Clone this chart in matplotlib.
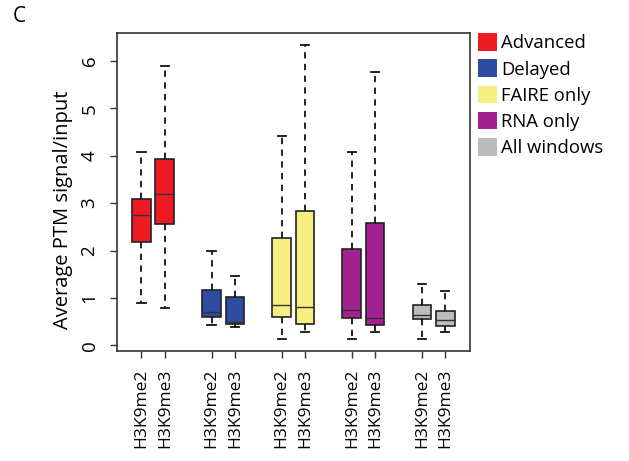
import matplotlib
matplotlib.use("Agg")
import matplotlib.pyplot as plt
from matplotlib.patches import Patch

groups = ["Advanced", "Delayed", "FAIRE only", "RNA only", "All windows"]
colors = ["#ED1C24", "#2E4DA0", "#F6EE80", "#A4228F", "#BCBCBC"]
marks = ["H3K9me2", "H3K9me3"]

# five-number summaries per box: (whislo, q1, med, q3, whishi)
whislo = [0.90, 0.79, 0.44, 0.39, 0.14, 0.29, 0.14, 0.29, 0.14, 0.29]
q1 = [2.19, 2.56, 0.60, 0.46, 0.60, 0.46, 0.57, 0.44, 0.55, 0.42]
med = [2.75, 3.19, 0.70, 0.50, 0.86, 0.81, 0.74, 0.58, 0.64, 0.53]
q3 = [3.08, 3.93, 1.17, 1.02, 2.26, 2.83, 2.03, 2.58, 0.86, 0.72]
whishi = [4.08, 5.89, 2.00, 1.47, 4.42, 6.33, 4.07, 5.77, 1.30, 1.14]

positions = [1, 2, 4, 5, 7, 8, 10, 11, 13, 14]

stats = []
for i in range(len(positions)):
    stats.append({"whislo": whislo[i], "q1": q1[i], "med": med[i],
                  "q3": q3[i], "whishi": whishi[i], "fliers": []})

plt.rcParams['font.family'] = ['Open Sans', 'DejaVu Sans']

fig = plt.figure(figsize=(6.29, 4.61), dpi=100)
ax = fig.add_axes([0.1855, 0.2393, 0.5617, 0.6885])

bp = ax.bxp(stats, positions=positions, widths=0.8, patch_artist=True,
            showfliers=False,
            boxprops=dict(linewidth=1.2, edgecolor="#222222"),
            medianprops=dict(color="#333333", linewidth=1.0),
            whiskerprops=dict(color="#111111", linewidth=1.3, linestyle=(0, (3.5, 3))),
            capprops=dict(color="#111111", linewidth=1.3),
            capwidths=0.35)
for i, box in enumerate(bp["boxes"]):
    box.set_facecolor(colors[i // 2])

ax.set_xlim(-0.06, 15.06)
ax.set_ylim(-0.11, 6.58)
ax.set_xticks(positions)
ax.set_xticklabels(marks * 5, rotation=90, fontsize=12.5)
ax.set_yticks(range(7))
ax.set_yticklabels([str(v) for v in range(7)], rotation=90, va="center", fontsize=13.5)
ax.tick_params(axis="x", length=5, width=1, color="#333333", pad=8)
ax.tick_params(axis="y", length=5, width=1, color="#333333", pad=8)
for s in ax.spines.values():
    s.set_linewidth(1.2)
    s.set_color("#333333")

ax.set_ylabel("Average PTM signal/input", fontsize=14.5)
ax.yaxis.set_label_coords(-0.125, 0.444)

handles = [Patch(facecolor=c, edgecolor="none") for c in colors]
fig.legend(handles, groups, loc="upper left", bbox_to_anchor=(0.748, 0.944),
           frameon=False, fontsize=13.3, handlelength=1.05, handleheight=1.1,
           handletextpad=0.2, labelspacing=0.38, borderaxespad=0)

fig.text(0.02, 0.988, "C", fontsize=15, va="top", ha="left")

fig.savefig("out.png", dpi=100)
